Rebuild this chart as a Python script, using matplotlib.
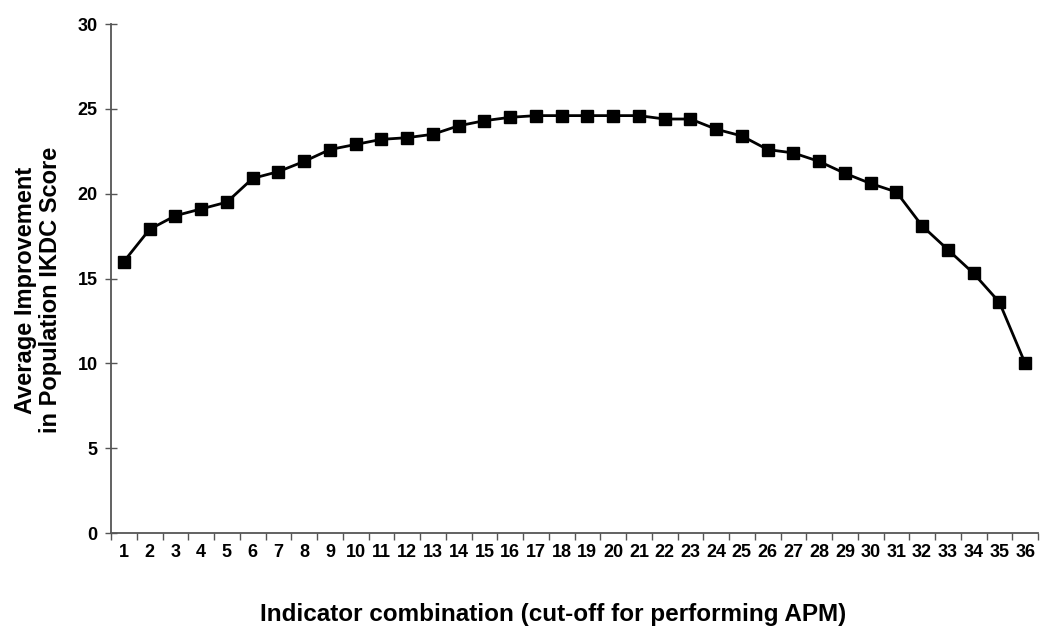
import matplotlib
matplotlib.use("Agg")
import matplotlib.pyplot as plt
import numpy as np

plt.rcParams["font.family"] = ["Liberation Sans", "DejaVu Sans"]

combination = list(range(1, 37))
improvement = [
    16.0, 17.9, 18.7, 19.1, 19.5, 20.9, 21.3, 21.9, 22.6, 22.9,
    23.2, 23.3, 23.5, 24.0, 24.3, 24.5, 24.6, 24.6, 24.6, 24.6,
    24.6, 24.4, 24.4, 23.8, 23.4, 22.6, 22.4, 21.9, 21.2, 20.6,
    20.1, 18.1, 16.7, 15.3, 13.6, 10.0,
]
y_ticks = [0, 5, 10, 15, 20, 25, 30]

AXIS_COLOR = "#555555"

fig = plt.figure(figsize=(10.5, 6.37), dpi=100)
ax = fig.add_axes([111 / 1050, 1 - 533 / 637, 927 / 1050, 509 / 637])

x = np.arange(len(combination))
ax.plot(x, improvement, color="black", linewidth=2.0, marker="s",
        markersize=9, markerfacecolor="black", markeredgecolor="black",
        clip_on=False, zorder=3)

ax.set_xlim(-0.5, len(combination) - 0.5)
ax.set_ylim(0, 30)

# category labels between boundary ticks
ax.set_xticks(np.arange(len(combination) + 1) - 0.5)
ax.set_xticklabels([])
ax.set_xticks(x, minor=True)
ax.set_xticklabels([str(c) for c in combination], minor=True,
                   fontsize=13, fontweight="bold")
ax.tick_params(axis="x", which="minor", length=0, pad=8)
ax.tick_params(axis="x", which="major", length=5, width=1.0,
               color=AXIS_COLOR, direction="out")

ax.set_yticks(y_ticks)
ax.set_yticklabels([str(t) for t in y_ticks], fontsize=13,
                   fontweight="bold")
ax.tick_params(axis="y", direction="inout", length=9, width=1.0,
               color=AXIS_COLOR, pad=5)

for side in ("top", "right"):
    ax.spines[side].set_visible(False)
for side in ("left", "bottom"):
    ax.spines[side].set_color(AXIS_COLOR)
    ax.spines[side].set_linewidth(1.3)

ax.set_xlabel("Indicator combination (cut-off for performing APM)",
              fontsize=17.5, fontweight="bold")
ax.xaxis.set_label_coords(0.477, -0.1375)
ax.set_ylabel("Average Improvement\nin Population IKDC Score",
              fontsize=17, fontweight="bold", linespacing=1.12)
ax.yaxis.set_label_coords(-0.053, 0.477)

fig.savefig("out.png", dpi=100)
